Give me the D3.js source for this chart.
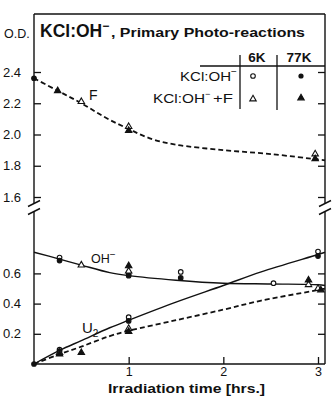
<!DOCTYPE html>
<html><head><meta charset="utf-8">
<script src="https://cdn.jsdelivr.net/npm/d3@7"></script>
<style>body{margin:0;background:#fff}svg{display:block}text{font-family:"Liberation Sans",Arial,sans-serif;fill:#111}</style>
</head><body><svg id="c" width="332" height="400"></svg>
<script>
// ---- data ----
const xTicks = [1, 2, 3];
const upperTicks = [1.6, 1.8, 2.0, 2.2, 2.4];
const lowerTicks = [0.2, 0.4, 0.6];
const upperTickLabels = ["1.6", "1.8", "2.0", "2.2", "2.4"];
const lowerTickLabels = ["0.2", "0.4", "0.6"];

// curves [hours, O.D.]
const fCurve   = [[0,2.36],[0.25,2.28],[0.5,2.2],[0.75,2.11],[1,2.035],[1.25,1.97],[1.5,1.935],[2,1.9],[2.5,1.875],[3,1.84],[3.074,1.835]];
const ohCurve  = [[0,0.74],[0.27,0.695],[0.5,0.655],[0.8,0.605],[1,0.585],[1.5,0.555],[2,0.535],[2.5,0.53],[3,0.525],[3.074,0.52]];
const u2Solid  = [[0,0],[0.27,0.09],[0.5,0.155],[0.8,0.24],[1,0.29],[1.5,0.41],[2,0.52],[2.4,0.61],[3,0.725],[3.074,0.74]];
const u2Dashed = [[0,0],[0.27,0.065],[0.5,0.115],[0.8,0.185],[1,0.22],[1.5,0.29],[2,0.36],[2.4,0.42],[3,0.49],[3.074,0.5]];

// markers
const upperOpenTri    = [[0.5,2.21],[1,2.05],[2.97,1.875]];
const upperFilledTri  = [[0.25,2.28],[1,2.025],[2.97,1.845]];
const upperFilledCirc = [[0,2.36]];
const lowerOpenCirc   = [[0.27,0.705],[1,0.6],[1.55,0.61],[2.53,0.535],[0.27,0.095],[1,0.31],[3,0.745]];
const lowerFilledCirc = [[0.27,0.685],[1,0.585],[1.55,0.57],[0,0],[0.27,0.085],[1,0.285],[3,0.715]];
const lowerOpenTri    = [[0.5,0.655],[1,0.615],[2.9,0.525],[0.27,0.075],[1,0.235],[3.0,0.5]];
const lowerFilledTri  = [[1,0.65],[2.9,0.555],[0.27,0.065],[0.5,0.075],[1,0.215],[3.03,0.49]];

const legendCols = ["6K", "77K"];

// ---- drawing ----
const svg = d3.select("#c");
const L = 34, R = 325, T = 14, B = 364;
const x = d3.scaleLinear().domain([0, 3]).range([34, 318]);
const yU = d3.scaleLinear().domain([1.6, 2.4]).range([197, 72]);
const yL = d3.scaleLinear().domain([0, 0.6]).range([364, 273.4]);
const ink = "#111";

// frame with breaks
const frame = svg.append("g").attr("stroke", ink).attr("stroke-width", 1.4).attr("fill", "none");
frame.append("line").attr("x1", L).attr("x2", R).attr("y1", T).attr("y2", T);
frame.append("line").attr("x1", L).attr("x2", R).attr("y1", B).attr("y2", B);
[L, R].forEach(ax => {
  frame.append("line").attr("x1", ax).attr("x2", ax).attr("y1", T).attr("y2", 203);
  frame.append("line").attr("x1", ax).attr("x2", ax).attr("y1", 211).attr("y2", B);
  frame.append("line").attr("x1", ax-6).attr("x2", ax+6).attr("y1", 206.5).attr("y2", 200.5);
  frame.append("line").attr("x1", ax-6).attr("x2", ax+6).attr("y1", 214.5).attr("y2", 208.5);
});

function styleAxis(g) {
  g.select(".domain").remove();
  g.selectAll("line").attr("stroke", ink).attr("stroke-width", 1.3);
  g.selectAll("text").attr("font-size", 13).attr("fill", ink).style("font-family", '"Liberation Sans",Arial,sans-serif');
}
svg.append("g").attr("transform", `translate(${L},0)`)
  .call(d3.axisLeft(yU).tickValues(upperTicks).tickSize(-7).tickPadding(13).tickFormat((d,i)=>upperTickLabels[i]))
  .call(styleAxis);
svg.append("g").attr("transform", `translate(${L},0)`)
  .call(d3.axisLeft(yL).tickValues(lowerTicks).tickSize(-7).tickPadding(13).tickFormat((d,i)=>lowerTickLabels[i]))
  .call(styleAxis);
svg.append("g").attr("transform", `translate(${R},0)`)
  .call(d3.axisRight(yU).tickValues(upperTicks).tickSize(-7).tickFormat(""))
  .call(styleAxis);
svg.append("g").attr("transform", `translate(${R},0)`)
  .call(d3.axisRight(yL).tickValues(lowerTicks).tickSize(-7).tickFormat(""))
  .call(styleAxis);
svg.append("g").attr("transform", `translate(0,${B})`)
  .call(d3.axisBottom(x).tickValues(xTicks).tickSize(-7).tickPadding(3).tickFormat(d3.format("d")))
  .call(styleAxis)
  .call(g => g.selectAll("text").attr("font-size", 12.5));

// curves
const lineU = d3.line().x(d => x(d[0])).y(d => yU(d[1])).curve(d3.curveCatmullRom);
const lineL = d3.line().x(d => x(d[0])).y(d => yL(d[1])).curve(d3.curveCatmullRom);
svg.append("path").attr("d", lineU(fCurve)).attr("fill","none").attr("stroke",ink).attr("stroke-width",1.8).attr("stroke-dasharray","5,3");
svg.append("path").attr("d", lineL(ohCurve)).attr("fill","none").attr("stroke",ink).attr("stroke-width",1.4);
svg.append("path").attr("d", lineL(u2Solid)).attr("fill","none").attr("stroke",ink).attr("stroke-width",1.4);
svg.append("path").attr("d", lineL(u2Dashed)).attr("fill","none").attr("stroke",ink).attr("stroke-width",1.8).attr("stroke-dasharray","5,3");

// markers
const tri = d3.symbol().type(d3.symbolTriangle).size(18);
function circles(data, y, filled) {
  svg.append("g").selectAll("circle").data(data).join("circle")
    .attr("cx", d => x(d[0])).attr("cy", d => y(d[1])).attr("r", 2.3)
    .attr("fill", filled ? ink : "#fff").attr("stroke", ink).attr("stroke-width", 1.1);
}
function triangles(data, y, filled) {
  svg.append("g").selectAll("path").data(data).join("path")
    .attr("d", tri).attr("transform", d => `translate(${x(d[0])},${y(d[1])})`)
    .attr("fill", filled ? ink : "#fff").attr("stroke", ink).attr("stroke-width", 1.1);
}
triangles(upperOpenTri, yU, false);
triangles(upperFilledTri, yU, true);
circles(upperFilledCirc, yU, true);
circles(lowerOpenCirc, yL, false);
circles(lowerFilledCirc, yL, true);
triangles(lowerOpenTri, yL, false);
triangles(lowerFilledTri, yL, true);

// texts
svg.append("text").attr("x", 4).attr("y", 38).attr("font-size", 12.5).text("O.D.");
const title = svg.append("text").attr("x", 40).attr("y", 37).attr("font-weight", "bold");
title.append("tspan").attr("font-size", 17.5).text("KCl:OH");
title.append("tspan").attr("font-size", 12).attr("dy", -7).text("−");
svg.append("text").attr("x", 111).attr("y", 37).attr("font-weight", "bold").attr("font-size", 13)
  .attr("textLength", 194).attr("lengthAdjust", "spacingAndGlyphs").text(", Primary Photo-reactions");

svg.append("text").attr("x", 89).attr("y", 100).attr("font-size", 14).text("F");
const oh = svg.append("text").attr("x", 91).attr("y", 263).attr("font-size", 12.5);
oh.append("tspan").text("OH");
oh.append("tspan").attr("font-size", 10).attr("dy", -5).text("−");
const u2 = svg.append("text").attr("x", 82).attr("y", 333).attr("font-size", 15);
u2.append("tspan").text("U");
u2.append("tspan").attr("font-size", 10).attr("dy", 4).text("2");

svg.append("text").attr("x", 108).attr("y", 393).attr("font-size", 12.5).attr("font-weight", "bold")
  .attr("textLength", 157).attr("lengthAdjust", "spacingAndGlyphs").text("Irradiation time [hrs.]");

// legend table
const lg = svg.append("g").attr("stroke", ink).attr("stroke-width", 1.3);
lg.append("line").attr("x1", 200).attr("x2", R).attr("y1", 66).attr("y2", 66);
lg.append("line").attr("x1", 240).attr("x2", 240).attr("y1", 55).attr("y2", 109);
lg.append("line").attr("x1", 277).attr("x2", 277).attr("y1", 55).attr("y2", 110);
svg.append("text").attr("x", 257).attr("y", 62).attr("font-size", 13.5).attr("font-weight","bold").attr("text-anchor","middle").text(legendCols[0]);
svg.append("text").attr("x", 299).attr("y", 62).attr("font-size", 13.5).attr("font-weight","bold").attr("text-anchor","middle").text(legendCols[1]);
svg.append("text").attr("x", 180).attr("y", 81).attr("font-size", 13)
  .attr("textLength", 51).attr("lengthAdjust", "spacingAndGlyphs").text("KCl:OH");
svg.append("text").attr("x", 231).attr("y", 75).attr("font-size", 10).text("−");
svg.append("text").attr("x", 153).attr("y", 103).attr("font-size", 13)
  .attr("textLength", 52).attr("lengthAdjust", "spacingAndGlyphs").text("KCl:OH");
svg.append("text").attr("x", 205).attr("y", 97).attr("font-size", 9).text("−");
svg.append("text").attr("x", 213).attr("y", 103).attr("font-size", 13)
  .attr("textLength", 20).attr("lengthAdjust", "spacingAndGlyphs").text("+F");
svg.append("circle").attr("cx", 253).attr("cy", 76).attr("r", 2.3).attr("fill","#fff").attr("stroke",ink).attr("stroke-width",1.1);
svg.append("circle").attr("cx", 301).attr("cy", 76).attr("r", 2.6).attr("fill",ink);
svg.append("path").attr("d", tri).attr("transform","translate(253,99)").attr("fill","#fff").attr("stroke",ink).attr("stroke-width",1.1);
svg.append("path").attr("d", tri).attr("transform","translate(301,98)").attr("fill",ink).attr("stroke",ink).attr("stroke-width",1.1);
</script></body></html>
